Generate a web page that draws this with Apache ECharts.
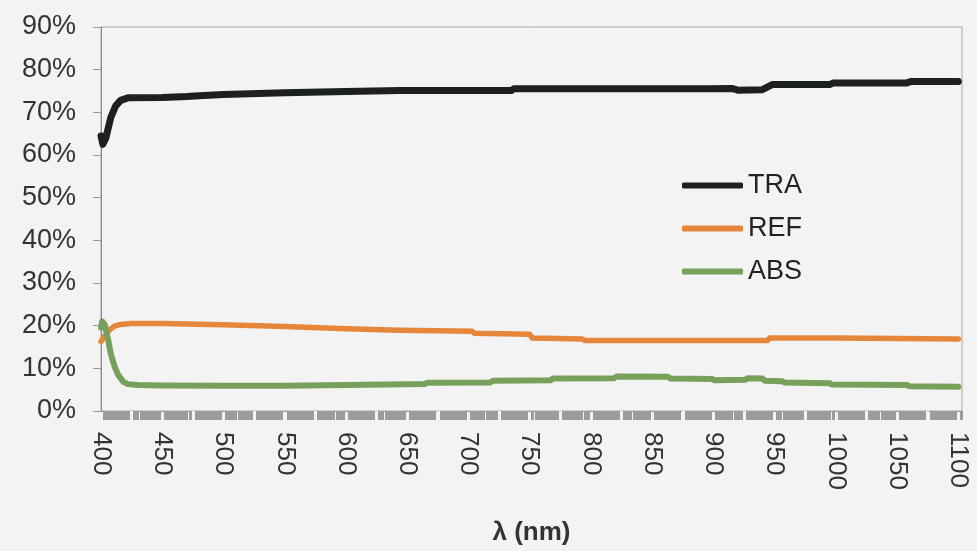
<!DOCTYPE html>
<html>
<head>
<meta charset="utf-8">
<script src="https://cdn.jsdelivr.net/npm/echarts@6/dist/echarts.min.js"></script>
<style>
  html, body { margin: 0; padding: 0; background: #f3f3f3; }
  #chart { width: 977px; height: 551px; }
</style>
</head>
<body>
<div id="chart"></div>
<script>
// Transmittance (TRA), reflectance (REF) and absorbance (ABS) spectra, in %
const traNm  = [400, 401.5, 404, 408, 412, 416, 422, 450, 470, 480, 500, 550, 600, 644, 735, 737, 895, 915, 920, 940, 948, 995, 998, 1058, 1061, 1100];
const traPct = [64.5, 62.5, 64.0, 68.8, 71.5, 72.8, 73.4, 73.5, 73.7, 73.9, 74.2, 74.6, 74.9, 75.1, 75.1, 75.5, 75.5, 75.6, 75.2, 75.3, 76.5, 76.5, 76.9, 76.9, 77.2, 77.2];

const refNm  = [400, 403, 407, 411, 416, 425, 450, 500, 550, 600, 644, 703, 705, 750, 752, 793, 795, 944, 946, 1000, 1100];
const refPct = [16.3, 17.6, 19.0, 19.9, 20.3, 20.5, 20.5, 20.2, 19.8, 19.3, 18.9, 18.7, 18.2, 18.0, 17.1, 16.9, 16.5, 16.5, 17.1, 17.1, 16.9];

const absNm  = [400, 401, 403, 406, 408, 411, 414, 418, 422, 430, 450, 500, 550, 600, 664, 666, 718, 720, 767, 769, 819, 821, 863, 865, 899, 901, 926, 928, 940, 942, 956, 958, 995, 997, 1058, 1060, 1100];
const absPct = [19.5, 21.0, 20.3, 16.5, 13.4, 10.5, 8.5, 6.9, 6.3, 6.1, 6.0, 5.9, 5.9, 6.1, 6.3, 6.6, 6.7, 7.1, 7.2, 7.6, 7.7, 8.1, 8.0, 7.6, 7.5, 7.2, 7.3, 7.7, 7.6, 7.1, 7.0, 6.7, 6.5, 6.2, 6.1, 5.8, 5.7];

const seriesNames = ['TRA', 'REF', 'ABS'];
const xTickValues = [400, 450, 500, 550, 600, 650, 700, 750, 800, 850, 900, 950, 1000, 1050, 1100];
const yTickValues = [0, 10, 20, 30, 40, 50, 60, 70, 80, 90];

const pairs = (xs, ys) => xs.map((x, i) => [x, ys[i]]);

const bg = '#f3f3f3';
const font = "'Liberation Sans', Arial, Helvetica, sans-serif";

// small gaps in the dense tick band, half-way between the labelled ticks
const gapValues = xTickValues.slice(0, -1).map(v => v + 25);

const chart = echarts.init(document.getElementById('chart'), null, { renderer: 'canvas' });

chart.setOption({
  backgroundColor: bg,
  animation: false,
  textStyle: { fontFamily: font },
  grid: {
    left: 101, right: 15, top: 27, bottom: 133,
    show: true, borderColor: '#a8a8a8', borderWidth: 1, backgroundColor: 'transparent'
  },
  legend: {
    data: seriesNames,
    orient: 'vertical',
    left: 677, top: 167,
    icon: 'roundRect',
    itemWidth: 61, itemHeight: 6, itemGap: 16,
    textStyle: { fontSize: 27, color: '#222', lineHeight: 27, fontFamily: font }
  },
  xAxis: [{
    type: 'value',
    min: 400, max: 1103, interval: 50,
    name: 'λ (nm)',
    nameLocation: 'middle',
    nameGap: 109,
    nameTextStyle: { fontSize: 26, fontWeight: 'bold', color: '#333', fontFamily: font },
    axisLine: { show: true, lineStyle: { color: '#9a9a9a', width: 1 } },
    axisTick: { show: false },
    minorTick: { show: true, splitNumber: 20, length: 9, lineStyle: { color: '#9c9c9c', width: 3 } },
    splitLine: { show: false },
    axisLabel: {
      rotate: -90, margin: 21, fontSize: 26, color: '#333', fontFamily: font,
      customValues: xTickValues,
      formatter: v => String(v)
    }
  }, {
    type: 'value',
    position: 'bottom',
    min: 400, max: 1103,
    axisLine: { show: false },
    axisLabel: { show: false },
    splitLine: { show: false },
    axisTick: { show: true, customValues: gapValues, length: 10, lineStyle: { color: bg, width: 3 } }
  }],
  yAxis: {
    type: 'value',
    min: 0, max: 90, interval: 10,
    axisLine: { show: true, lineStyle: { color: '#8a8a8a', width: 1 } },
    axisTick: { show: true, length: 8, lineStyle: { color: '#9a9a9a' }, customValues: yTickValues },
    splitLine: { show: false },
    axisLabel: {
      margin: 25, fontSize: 27, color: '#333', fontFamily: font,
      formatter: '{value}%',
      customValues: yTickValues
    }
  },
  series: [
    {
      name: 'TRA', type: 'line', xAxisIndex: 0, showSymbol: false,
      data: pairs(traNm, traPct),
      lineStyle: { color: '#1d211e', width: 7, cap: 'round', join: 'round' },
      itemStyle: { color: '#1d211e' }
    },
    {
      name: 'REF', type: 'line', xAxisIndex: 0, showSymbol: false,
      data: pairs(refNm, refPct),
      lineStyle: { color: '#e5863b', width: 5.5, cap: 'round', join: 'round' },
      itemStyle: { color: '#e5863b' }
    },
    {
      name: 'ABS', type: 'line', xAxisIndex: 0, showSymbol: false,
      data: pairs(absNm, absPct),
      lineStyle: { color: '#77a05b', width: 6, cap: 'round', join: 'round' },
      itemStyle: { color: '#77a05b' }
    }
  ]
});
</script>
</body>
</html>
